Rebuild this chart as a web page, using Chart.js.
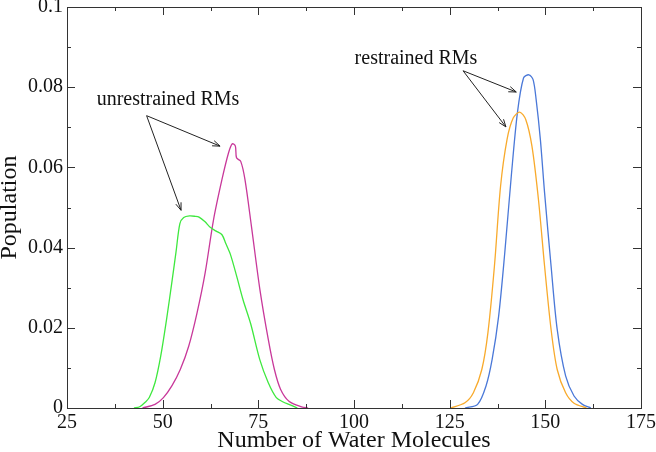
<!DOCTYPE html>
<html>
<head>
<meta charset="utf-8">
<script src="https://cdn.jsdelivr.net/npm/chart.js@4.4.1/dist/chart.umd.min.js"></script>
<style>
  html, body { margin: 0; padding: 0; background: #fff; }
</style>
</head>
<body>
<canvas id="waterChart" width="656" height="452"></canvas>
<script>
// Unrestrained RMs (green)
const greenX = [42.5, 44, 45.5, 46.5, 48, 49.5, 51, 52.5, 53.5, 54.5, 55.5, 57, 58.5, 59.5, 61, 62.5, 64, 65.5, 66.5, 67.7, 69.3, 71, 73, 75.4, 77.6, 79.7, 81.5, 83, 85.2];
const greenY = [0, 0.0003, 0.0015, 0.0026, 0.0063, 0.013, 0.022, 0.032, 0.039, 0.046, 0.0475, 0.0479, 0.0478, 0.0476, 0.0465, 0.045, 0.0441, 0.0432, 0.041, 0.0383, 0.033, 0.027, 0.021, 0.012, 0.0063, 0.0026, 0.0015, 0.0009, 0];

// Unrestrained RMs (magenta)
const magentaX = [44.7, 48, 50.2, 52.4, 54.6, 56.8, 59, 61.1, 63.3, 65.5, 67.2, 68.2, 69, 69.3, 70.4, 71.5, 73.2, 75.4, 77.6, 79.2, 80.8, 83, 86.3, 88];
const magentaY = [0, 0.0009, 0.0026, 0.0055, 0.0096, 0.0154, 0.0238, 0.0337, 0.047, 0.057, 0.0636, 0.0659, 0.0653, 0.0624, 0.0615, 0.057, 0.0453, 0.0296, 0.0171, 0.0096, 0.0047, 0.0017, 0.0003, 0];

// Restrained RMs (orange)
const orangeX = [125.2, 129, 131.2, 133.4, 135, 136.7, 138.3, 140, 141.6, 143.3, 144.9, 146.5, 148.2, 149.8, 151.5, 153.1, 155.3, 157.5, 160.8];
const orangeY = [0, 0.0013, 0.0038, 0.0096, 0.0188, 0.0354, 0.0553, 0.067, 0.0723, 0.0738, 0.0719, 0.0653, 0.052, 0.0354, 0.0196, 0.0096, 0.0038, 0.0012, 0];

// Restrained RMs (blue)
const blueX = [129, 132.3, 134.5, 136.1, 137.8, 139.4, 141.1, 142.7, 144.3, 145.7, 146.8, 147.6, 148.7, 149.8, 151.5, 153.1, 155.3, 157.5, 159.7, 161.9];
const blueY = [0, 0.0009, 0.0055, 0.0121, 0.0229, 0.0387, 0.0578, 0.0736, 0.0823, 0.0831, 0.0819, 0.0769, 0.067, 0.0537, 0.0354, 0.0196, 0.008, 0.003, 0.0009, 0];

// Annotation labels and arrows in data coordinates
const notes = [
  { text: 'unrestrained RMs', x: 51.4, y: 0.0769, tail: [45.8, 0.0729], heads: [[65, 0.0653], [54.8, 0.0493]] },
  { text: 'restrained RMs', x: 116.2, y: 0.087, tail: [128.5, 0.0841], heads: [[142.4, 0.0788], [139.7, 0.0701]] }
];

const serif = "'Liberation Serif', 'DejaVu Serif', serif";

function pairUp(xs, ys) {
  return xs.map((x, i) => ({ x: x, y: ys[i] }));
}

// Box around the plot with inward major and minor ticks on every side
const framePlugin = {
  id: 'frame',
  afterDatasetsDraw(chart) {
    const { ctx, chartArea: a, scales: { x, y } } = chart;
    ctx.save();
    ctx.strokeStyle = '#333';
    ctx.lineWidth = 1;
    ctx.strokeRect(a.left + 0.5, a.top + 0.5, a.right - a.left, a.bottom - a.top);
    ctx.beginPath();
    x.ticks.forEach((t, i) => {
      const px = Math.round(x.getPixelForValue(t.value)) + 0.5;
      const len = i % 2 === 0 ? 8 : 4;
      ctx.moveTo(px, a.bottom); ctx.lineTo(px, a.bottom - len);
      ctx.moveTo(px, a.top); ctx.lineTo(px, a.top + len);
    });
    y.ticks.forEach((t, i) => {
      const py = Math.round(y.getPixelForValue(t.value)) + 0.5;
      const len = i % 2 === 0 ? 8 : 4;
      ctx.moveTo(a.left, py); ctx.lineTo(a.left + len, py);
      ctx.moveTo(a.right, py); ctx.lineTo(a.right - len, py);
    });
    ctx.stroke();
    ctx.restore();
  }
};

// Text labels with arrows pointing at the curves
const notePlugin = {
  id: 'notes',
  afterDatasetsDraw(chart) {
    const { ctx, scales: { x, y } } = chart;
    ctx.save();
    ctx.font = '20px ' + serif;
    ctx.fillStyle = '#111';
    ctx.textAlign = 'center';
    ctx.textBaseline = 'middle';
    ctx.strokeStyle = '#222';
    ctx.lineWidth = 1;
    notes.forEach(n => {
      ctx.fillText(n.text, x.getPixelForValue(n.x), y.getPixelForValue(n.y));
      const tx = x.getPixelForValue(n.tail[0]);
      const ty = y.getPixelForValue(n.tail[1]);
      n.heads.forEach(h => {
        const hx = x.getPixelForValue(h[0]);
        const hy = y.getPixelForValue(h[1]);
        const ang = Math.atan2(hy - ty, hx - tx);
        ctx.beginPath();
        ctx.moveTo(tx, ty);
        ctx.lineTo(hx, hy);
        ctx.moveTo(hx - 8 * Math.cos(ang - 0.35), hy - 8 * Math.sin(ang - 0.35));
        ctx.lineTo(hx, hy);
        ctx.lineTo(hx - 8 * Math.cos(ang + 0.35), hy - 8 * Math.sin(ang + 0.35));
        ctx.stroke();
      });
    });
    ctx.restore();
  }
};

const ctx = document.getElementById('waterChart').getContext('2d');
new Chart(ctx, {
  type: 'line',
  data: {
    datasets: [
      { data: pairUp(greenX, greenY), borderColor: '#3ee83e' },
      { data: pairUp(magentaX, magentaY), borderColor: '#c8389a' },
      { data: pairUp(orangeX, orangeY), borderColor: '#f8aa2c' },
      { data: pairUp(blueX, blueY), borderColor: '#4a78d8' }
    ]
  },
  options: {
    responsive: false,
    animation: false,
    layout: { padding: 0 },
    elements: {
      point: { radius: 0 },
      line: { borderWidth: 1.3, tension: 0.3, fill: false }
    },
    plugins: {
      legend: { display: false },
      tooltip: { enabled: false }
    },
    scales: {
      x: {
        type: 'linear',
        min: 25,
        max: 175,
        border: { display: false },
        grid: { display: false, drawTicks: false },
        afterFit: s => { s.height = 44; s.paddingLeft = 0; s.paddingRight = 15; },
        ticks: {
          stepSize: 12.5,
          autoSkip: false,
          maxRotation: 0,
          padding: 3,
          color: '#111',
          font: { family: serif, size: 20 },
          callback: (v, i) => (i % 2 === 0 ? String(v) : '')
        },
        title: {
          display: true,
          text: 'Number of Water Molecules',
          color: '#111',
          font: { family: serif, size: 24, lineHeight: 1 },
          padding: { top: 0, bottom: -1 }
        }
      },
      y: {
        min: 0,
        max: 0.1,
        border: { display: false },
        grid: { display: false, drawTicks: false },
        afterFit: s => { s.width = 67; s.paddingTop = 7; s.paddingBottom = 0; },
        ticks: {
          stepSize: 0.01,
          autoSkip: false,
          padding: 4,
          color: '#111',
          font: { family: serif, size: 20 },
          callback: (v, i) => (i % 2 === 0 ? String(Number(v.toFixed(2))) : '')
        },
        title: {
          display: true,
          text: 'Population',
          color: '#111',
          font: { family: serif, size: 24, lineHeight: 1 },
          padding: { top: -2, bottom: 0 }
        }
      }
    }
  },
  plugins: [framePlugin, notePlugin]
});
</script>
</body>
</html>
